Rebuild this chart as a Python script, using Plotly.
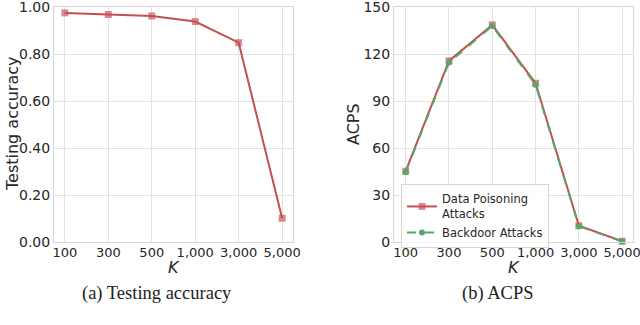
import plotly.graph_objects as go

k_labels = ["100", "300", "500", "1,000", "3,000", "5,000"]
accuracy = [0.975, 0.968, 0.962, 0.938, 0.848, 0.101]
acps_poison = [45.2, 115.6, 138.6, 101.3, 10.4, 0.5]
acps_backdoor = [44.6, 114.6, 137.9, 100.4, 10.1, 0.3]

RED = "#c44e52"
GREEN = "#55a868"
W, H = 640, 325


def px(x):
    return x / W


def py(y):
    return 1 - y / H


fig = go.Figure()

fig.add_trace(go.Scatter(
    x=k_labels, y=accuracy, mode="lines+markers", showlegend=False, cliponaxis=False,
    line=dict(color=RED, width=2),
    marker=dict(symbol="square", size=7, color="rgba(196,78,82,0.65)"),
    xaxis="x", yaxis="y"))

fig.add_trace(go.Scatter(
    x=k_labels, y=acps_poison, mode="lines+markers", name="Data Poisoning<br>Attacks",
    cliponaxis=False,
    line=dict(color=RED, width=2),
    marker=dict(symbol="square", size=7, color="rgba(196,78,82,0.65)"),
    xaxis="x2", yaxis="y2"))
fig.add_trace(go.Scatter(
    x=k_labels, y=acps_backdoor, mode="lines+markers", name="Backdoor Attacks",
    cliponaxis=False,
    line=dict(color=GREEN, width=2, dash="dash"),
    marker=dict(symbol="circle", size=6, color=GREEN),
    xaxis="x2", yaxis="y2"))

grid = "#e3e3e3"
tickfont_y = dict(family="DejaVu Sans", size=14, color="#262626")
tickfont_x = dict(family="DejaVu Sans", size=13, color="#262626")
common_x = dict(type="category", showgrid=True, gridcolor=grid, showline=True,
                linecolor="#d6d6d6", mirror=True, zeroline=False, ticks="",
                tickfont=tickfont_x, automargin=False, ticklabeloverflow="allow",
                ticklabelstandoff=-2)
common_y = dict(showgrid=True, gridcolor=grid, showline=True, linecolor="#d6d6d6",
                mirror=True, zeroline=False, ticks="", tickfont=tickfont_y,
                automargin=False, ticklabeloverflow="allow")

fig.update_layout(
    width=W, height=H,
    margin=dict(l=0, r=0, t=0, b=0),
    paper_bgcolor="white", plot_bgcolor="white",
    xaxis=dict(domain=[px(54), px(293)], range=[-0.25, 5.25], anchor="y", **common_x),
    yaxis=dict(domain=[py(242), py(7)], range=[0, 1], tickvals=[0, 0.2, 0.4, 0.6, 0.8, 1.0],
               tickformat=".2f", anchor="x", **common_y),
    xaxis2=dict(domain=[px(394), px(633)], range=[-0.27, 5.25], anchor="y2", **common_x),
    yaxis2=dict(domain=[py(242), py(7)], range=[0, 150], tickvals=[0, 30, 60, 90, 120, 150],
                anchor="x2", **common_y),
    legend=dict(x=px(401), y=py(184), xanchor="left", yanchor="top",
                bgcolor="rgba(255,255,255,0.85)", bordercolor="#d6d6d6", borderwidth=1,
                font=dict(family="DejaVu Sans", size=11.5, color="#262626"),
                tracegroupgap=0),
)

lab = dict(family="DejaVu Sans", size=16, color="#262626")
cap = dict(family="Liberation Serif", size=18.5, color="#222222")
ann = [
    dict(text="Testing accuracy", x=px(12), y=py(124), textangle=-90, font=lab),
    dict(text="ACPS", x=px(353), y=py(124), textangle=-90, font=lab),
    dict(text="<i>K</i>", x=px(174), y=py(267), font=lab),
    dict(text="<i>K</i>", x=px(514), y=py(267), font=lab),
    dict(text="(a) Testing accuracy", x=px(157), y=py(293), font=cap),
    dict(text="(b) ACPS", x=px(497), y=py(293), font=cap),
]
for a in ann:
    fig.add_annotation(xref="paper", yref="paper", showarrow=False,
                       xanchor="center", yanchor="middle", **a)

# page has an 8px body margin by default; drop it so the figure fills the window
fig.write_html("out.html", config={"displayModeBar": False},
               post_script="document.body.style.margin = '0';")
